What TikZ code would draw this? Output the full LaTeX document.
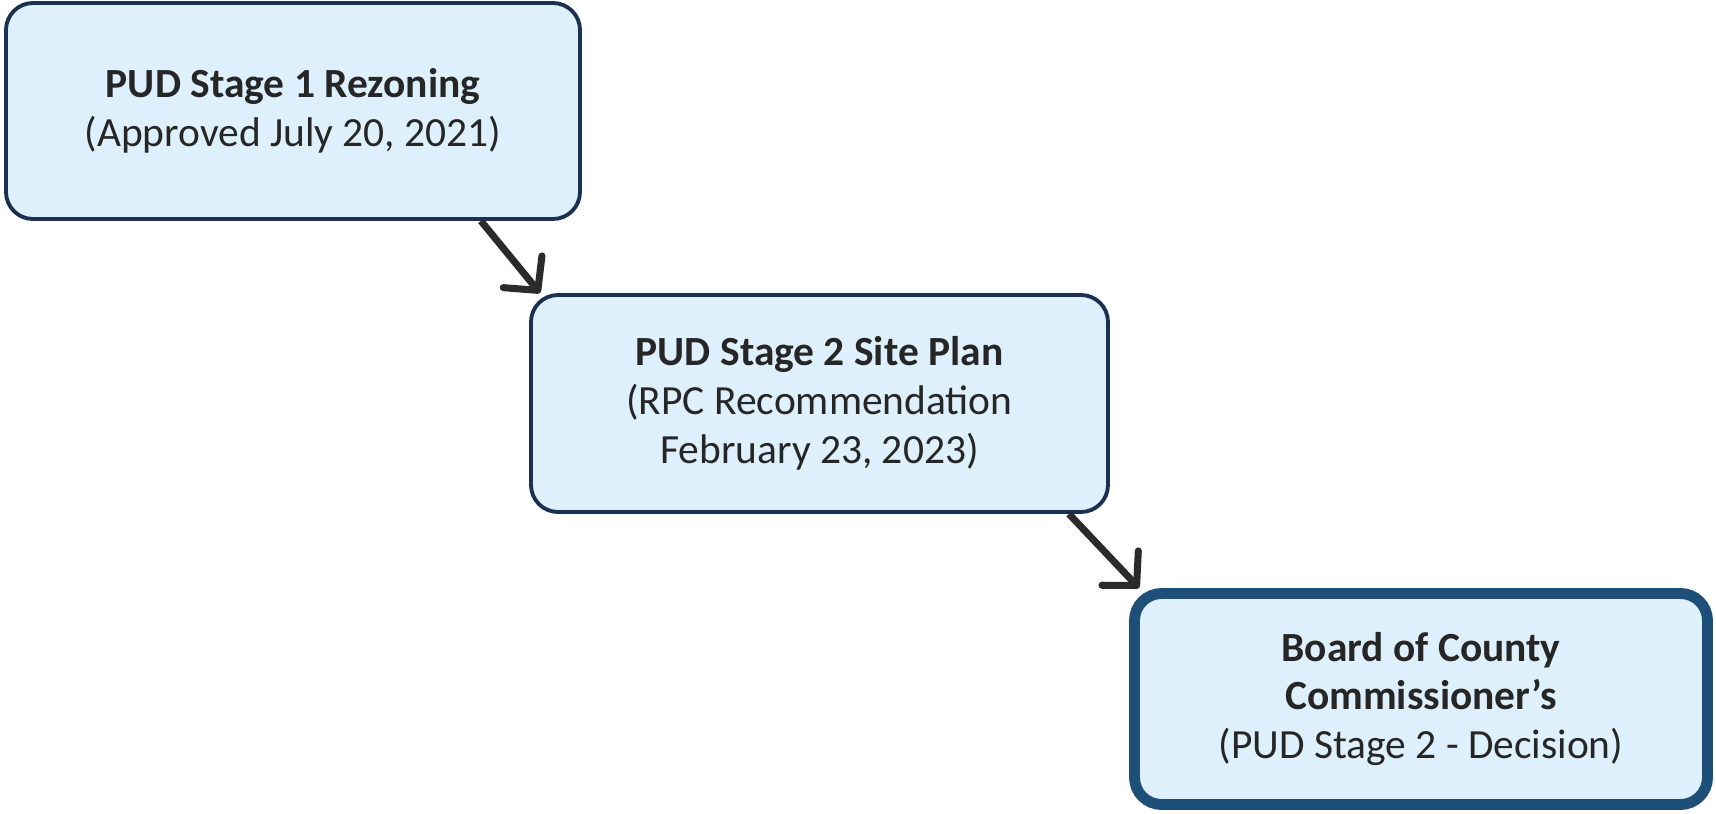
\documentclass[tikz,border=0pt]{standalone}
\usepackage{fontspec}
\setmainfont{Carlito}
\usetikzlibrary{arrows.meta,positioning}

\definecolor{boxfill}{HTML}{DDF0FB}
\definecolor{boxline}{HTML}{1B3152}
\definecolor{lastline}{HTML}{1D4F78}
\definecolor{arrowcol}{HTML}{2B2B2B}

\tikzset{
    stagebox/.style={draw=boxline, line width=1.1pt, fill=boxfill,
        rounded corners=0.27cm, align=center, text=black!85,
        font=\fontsize{11.8}{13.9}\selectfont, inner sep=0pt},
    flow/.style={draw=arrowcol, line width=2pt,
        -{Straight Barb[length=2.4mm,width=5mm,line cap=round,line join=round]}}
}

\begin{document}
\begin{tikzpicture}
        \useasboundingbox (0,0) rectangle (17.16,8.13);
        % Stage boxes
        \node[stagebox, minimum width=5.74cm, minimum height=2.16cm] (rezone)
            at (2.93,7.02) {\textbf{PUD Stage 1 Rezoning}\\(Approved July 20, 2021)}
        ;
        \node[stagebox, minimum width=5.77cm, minimum height=2.17cm] (siteplan)
            at (8.195,4.095) {\textbf{PUD Stage 2 Site Plan}\\(RPC Recommendation\\February 23, 2023)}
        ;
        \node[stagebox, draw=lastline, line width=3.1pt, minimum width=5.73cm,
            minimum height=2.11cm] (board)
            at (14.21,1.14) {\textbf{Board of County}\\\textbf{Commissioner's}\\(PUD Stage 2 - Decision)}
        ;
        %% Connect the stages
        \draw[flow] ([xshift=-1.01cm]rezone.south east) -- ([xshift=0.11cm]siteplan.north west)
        ;
        \draw[flow] ([xshift=-0.41cm]siteplan.south east) -- ([xshift=0.1cm]board.north west)
        ;
\end{tikzpicture}
\end{document}
